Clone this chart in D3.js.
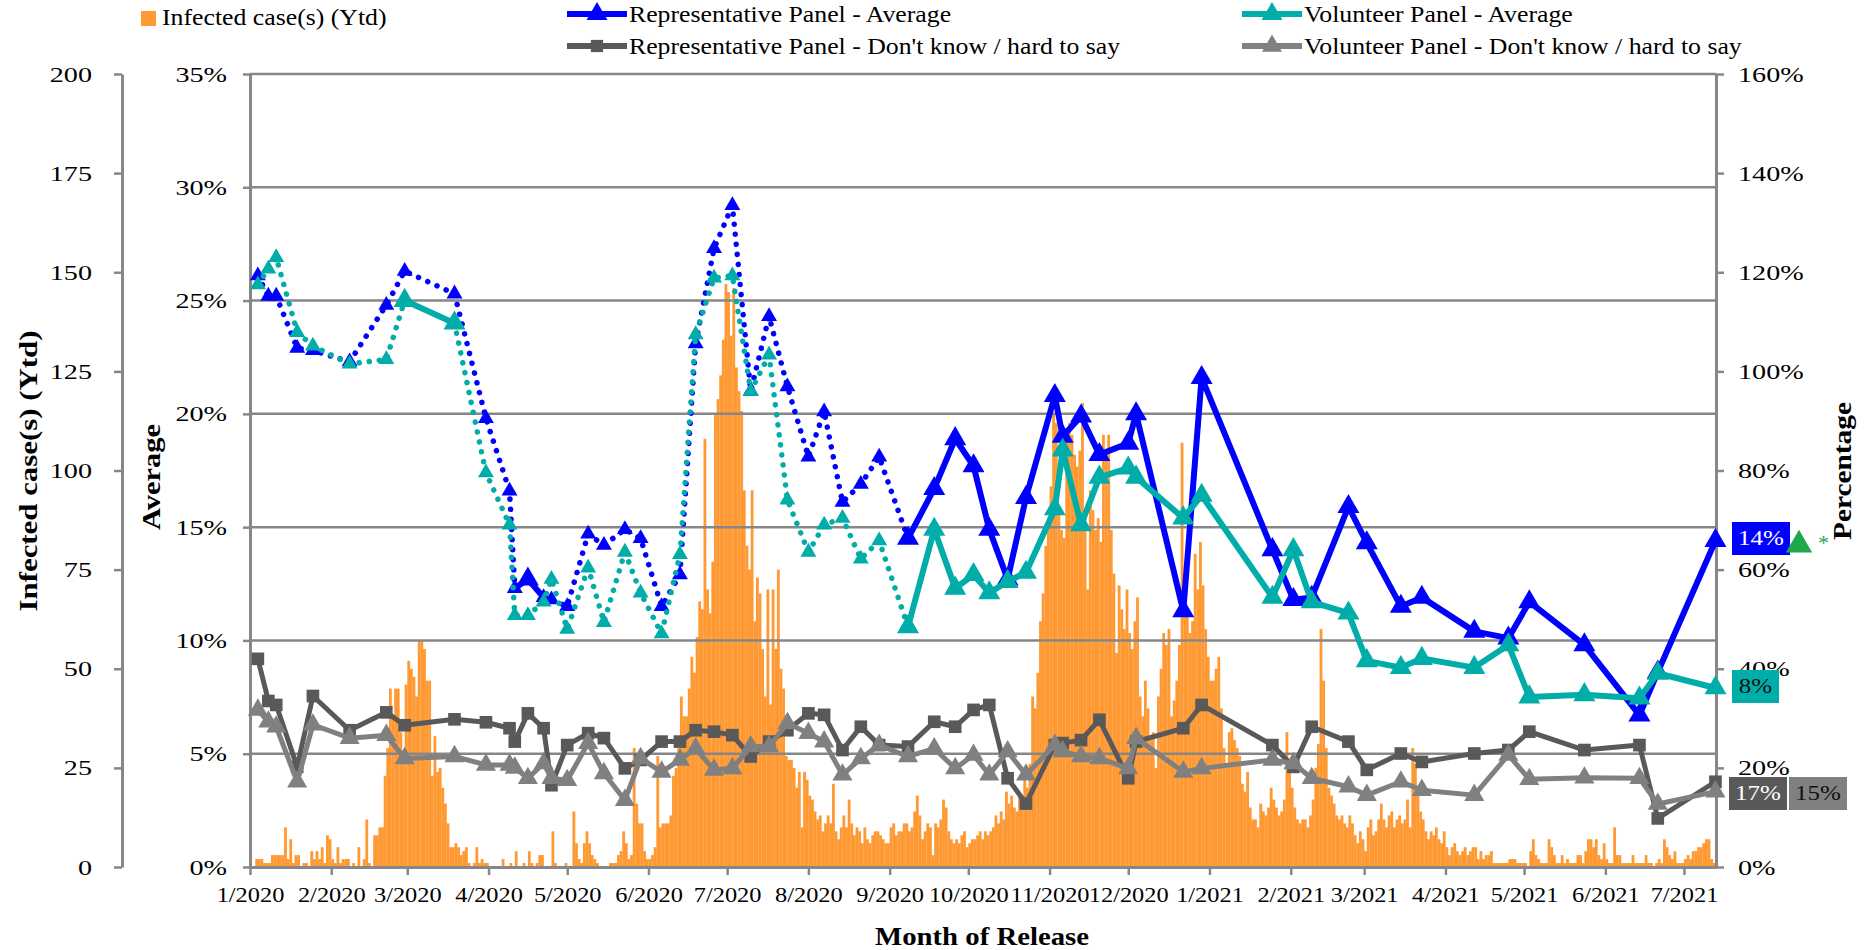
<!DOCTYPE html>
<html>
<head>
<meta charset="utf-8">
<style>
  body { margin: 0; background: #fff; }
  svg { display: block; font-family: "Liberation Serif", "Times New Roman", serif; }
</style>
</head>
<body>
<svg id="chart" width="1870" height="950"></svg>
<script src="https://cdnjs.cloudflare.com/ajax/libs/d3/7.8.5/d3.min.js"></script>
<script>
// survey release dates shared by the four panel series
const releaseDates = [
  "2020-01-04","2020-01-08","2020-01-11","2020-01-19","2020-01-25","2020-02-08","2020-02-22","2020-02-29","2020-03-19","2020-03-31",
  "2020-04-09","2020-04-11","2020-04-16","2020-04-22","2020-04-25","2020-05-01","2020-05-09","2020-05-15","2020-05-23","2020-05-29",
  "2020-06-06","2020-06-13","2020-06-19","2020-06-26","2020-07-03","2020-07-10","2020-07-17","2020-07-24","2020-08-01","2020-08-07",
  "2020-08-14","2020-08-21","2020-08-28","2020-09-08","2020-09-18","2020-09-26","2020-10-03","2020-10-09","2020-10-16","2020-10-23",
  "2020-11-03","2020-11-06","2020-11-13","2020-11-20","2020-12-01","2020-12-04","2020-12-22","2020-12-29","2021-01-25","2021-02-02",
  "2021-02-09","2021-02-23","2021-03-02","2021-03-15","2021-03-23","2021-04-12","2021-04-25","2021-05-03","2021-05-24","2021-06-14",
  "2021-06-21","2021-07-13"
];

// Average (left % axis)
const repAvg = [26.1,25.2,25.2,22.9,22.8,22.3,24.8,26.3,25.3,19.8, 16.6,12.3,12.7,11.9,11.8,11.5,14.7,14.2,14.9,14.5,
  11.5,12.9,23.1,27.3,29.2,21.0,24.3,21.2,18.1,20.1, 16.1,16.9,18.1,14.5,16.7,18.9,17.7,14.9,12.7,16.3,
  20.8,19.0,19.9,18.2,18.7,20.0,11.3,21.6,14.0,11.8, 11.9,15.9,14.3,11.5,11.9,10.4,10.1,11.7,9.8,6.7, 8.6,14.4];
const volAvg = [25.7,26.4,26.9,23.6,23.0,22.2,22.4,25.0,24.0,17.4, 15.1,11.1,11.1,11.7,12.7,10.5,13.2,10.8,13.9,12.1,
  10.3,13.8,23.5,26.0,26.1,21.0,22.6,16.2,13.9,15.1, 15.4,13.6,14.4,10.6,14.9,12.3,12.9,12.1,12.6,13.0,
  15.8,18.4,15.1,17.2,17.6,17.2,15.4,16.4,11.9,14.0, 11.7,11.2,9.1,8.8,9.2,8.8,9.8,7.5,7.6,7.45, 8.55,7.9];

// Don't know / hard to say (right % axis)
const repDK = [42.0,33.5,32.7,20.2,34.5,27.6,31.2,28.6,29.8,29.2, 28.0,25.3,31.0,28.0,16.5,24.6,27.0,26.0,19.9,21.6,
  25.3,25.3,27.6,27.3,26.6,22.3,25.3,27.6,31.0,30.7, 23.6,28.3,24.6,24.3,29.3,28.3,31.7,32.7,17.9,12.8,
  24.6,25.0,25.6,29.7,17.9,25.3,28.0,32.7,24.6,20.2, 28.3,25.3,19.6,22.9,21.2,22.9,23.6,27.3,23.6,24.6, 9.8,17.2];
const volDK = [31.7,29.3,28.3,17.2,28.7,26.0,26.6,21.9,22.3,20.6, 20.6,20.0,17.9,20.9,17.9,17.5,25.0,18.9,13.5,21.9,
  19.2,21.6,23.9,19.6,19.9,24.3,24.3,29.0,27.0,25.3, 18.6,21.9,24.6,22.3,23.9,19.9,22.6,18.6,23.3,18.6,
  24.6,23.3,22.3,21.9,19.9,26.0,19.2,19.9,21.6,20.9, 17.9,16.2,14.5,17.2,15.5,14.5,22.6,17.7,18.0,17.9, 12.7,15.2];

// daily infected cases, one row per month, starting 1 Jan 2020
const dailyCases2020 = [
  0,0,2,2,2,1,1,1,3,3,3,3,3,10,2,7,1,3,3,0,1,1,0,4,2,4,2,5,1,8,7,
  2,1,5,1,2,2,2,0,1,0,5,0,2,12,1,0,8,8,10,10,23,30,45,38,45,45,34,28,46,
  52,50,48,43,57,57,55,47,47,23,33,24,25,20,16,11,5,5,6,5,3,4,5,1,0,1,5,1,2,1,1,
  0,0,0,0,0,2,0,0,1,0,4,0,0,1,0,4,1,0,1,3,3,0,0,0,9,1,0,0,0,1,
  0,0,14,6,2,1,6,9,6,3,2,1,0,0,0,0,1,1,1,3,4,9,6,2,3,30,16,11,11,4,2,
  2,3,5,28,10,11,11,11,13,23,25,30,43,38,38,45,53,49,58,67,65,108,70,64,77,114,118,124,133,147,
  145,134,146,126,120,115,95,81,75,95,62,73,69,55,43,70,41,70,55,75,50,45,28,27,27,25,20,24,10,24,22,
  18,17,14,12,13,9,11,13,11,21,9,7,10,13,10,17,11,8,10,9,6,10,7,6,8,9,9,8,7,6,6,
  10,11,8,9,9,11,11,9,10,14,18,13,7,9,11,10,3,11,10,12,17,15,9,7,6,7,6,8,9,5,
  6,7,7,8,9,7,9,8,9,10,13,11,14,12,19,16,18,15,14,18,17,22,20,26,43,40,49,62,69,81,88,
  96,114,112,90,85,83,110,112,109,104,101,105,117,89,70,95,90,85,88,82,109,105,109,85,74,54,71,65,60,70,
  59,55,62,68,43,38,47,40,32,34,25,43,50,59,56,60,38,42,47,56,107,74,65,59,62,79,70,82,71,60,53
];
const dailyCases2021 = [
  47,47,50,53,40,30,25,34,35,32,30,28,21,19,24,15,12,12,10,16,14,13,15,20,17,15,13,14,17,34,25,
  20,15,12,11,12,12,10,13,17,25,31,60,47,30,20,18,16,13,12,13,11,10,13,11,8,6,9,7,
  4,10,12,8,9,12,16,12,10,13,14,10,12,13,11,12,17,10,30,26,20,14,12,9,7,9,8,10,7,6,9,
  5,3,5,6,4,3,4,5,3,4,5,5,2,4,2,3,3,4,1,1,1,1,1,1,2,2,2,1,1,1,
  1,0,4,7,3,2,1,1,1,7,5,3,1,1,3,1,2,1,1,1,3,3,1,4,7,7,5,7,3,2,6,
  2,1,1,10,3,3,1,1,1,1,3,1,1,1,1,3,1,1,0,1,2,1,7,5,3,2,4,1,1,1,
  2,3,2,4,4,5,5,6,7,7,2,1
];

const legendNames = ["Infected case(s) (Ytd)", "Representative Panel - Average", "Representative Panel - Don't know / hard to say",
  "Volunteer Panel - Average", "Volunteer Panel - Don't know / hard to say"];

// line style switches (segment start indices)
const solidFrom = 33;
const repSolidExtra = [11, 12], repBigExtra = [12];
const volSolidExtra = [7], volBigExtra = [7, 8];

const C = { orange: "#ff9933", blue: "#0000ff", teal: "#00ada8", dark: "#595959", grey: "#808080", axis: "#878787" };
const serif = "'Liberation Serif', 'Times New Roman', serif";

const svg = d3.select("#chart");
const plot = { left: 250, right: 1716, top: 74, bottom: 867 };

const parse = d3.timeParse("%Y-%m-%d");
const dates = releaseDates.map(parse);
const x = d3.scaleTime().domain([new Date(2020, 0, 1), new Date(2021, 6, 13, 5)]).range([plot.left, plot.right]);
const yAvg = d3.scaleLinear().domain([0, 35]).range([plot.bottom, plot.top]);
const yPct = d3.scaleLinear().domain([0, 160]).range([plot.bottom, plot.top]);
const yCases = d3.scaleLinear().domain([0, 200]).range([plot.bottom, plot.top]);

function stretch(sel, k) {
  sel.each(function () {
    const w = this.getComputedTextLength();
    d3.select(this).attr("textLength", w * k).attr("lengthAdjust", "spacingAndGlyphs");
  });
}

// bars
const caseStart = new Date(2020, 0, 1);
const cases = dailyCases2020.concat(dailyCases2021).map((v, i) => ({ date: d3.timeDay.offset(caseStart, i), v }));
svg.append("g").selectAll("rect").data(cases).join("rect")
  .attr("x", d => x(d.date))
  .attr("width", d => x(d3.timeDay.offset(d.date, 1)) - x(d.date) + 0.2)
  .attr("y", d => yCases(d.v))
  .attr("height", d => plot.bottom - yCases(d.v))
  .attr("fill", C.orange);

// gridlines
svg.append("g").selectAll("line").data(d3.range(5, 36, 5)).join("line")
  .attr("x1", plot.left).attr("x2", plot.right)
  .attr("y1", d => yAvg(d)).attr("y2", d => yAvg(d))
  .attr("stroke", C.axis).attr("stroke-width", 2.5);

function styleAxis(g, size, k) {
  g.attr("font-family", serif).attr("font-size", size);
  g.select(".domain").attr("stroke", C.axis).attr("stroke-width", 3);
  g.selectAll(".tick line").attr("stroke", C.axis).attr("stroke-width", 2.5);
  g.selectAll(".tick text").attr("fill", "#000");
  stretch(g.selectAll(".tick text"), k);
}

const gx = svg.append("g").attr("transform", `translate(0,${plot.bottom})`)
  .call(d3.axisBottom(x).tickValues(d3.timeMonth.range(new Date(2020, 0, 1), new Date(2021, 6, 2)))
    .tickFormat(d3.timeFormat("%-m/%Y")).tickSize(8).tickSizeOuter(0).tickPadding(12));
styleAxis(gx, 21, 1.16);

const gyA = svg.append("g").attr("transform", `translate(${plot.left},0)`)
  .call(d3.axisLeft(yAvg).tickValues(d3.range(0, 36, 5)).tickFormat(d => d + "%").tickSize(7).tickSizeOuter(0).tickPadding(16));
styleAxis(gyA, 22, 1.28);

const gyC = svg.append("g").attr("transform", "translate(122,0)")
  .call(d3.axisLeft(yCases).tickValues(d3.range(0, 201, 25)).tickSize(8).tickSizeOuter(0).tickPadding(22));
styleAxis(gyC, 22, 1.28);

const gyP = svg.append("g").attr("transform", `translate(${plot.right},0)`)
  .call(d3.axisRight(yPct).tickValues(d3.range(0, 161, 20)).tickFormat(d => d + "%").tickSize(8).tickSizeOuter(0).tickPadding(14));
styleAxis(gyP, 22, 1.28);

// axis titles
function title(txt, tx, ty, rot, len) {
  svg.append("text").attr("transform", `translate(${tx},${ty}) rotate(${rot})`)
    .attr("text-anchor", "middle").attr("font-family", serif).attr("font-weight", "bold")
    .attr("font-size", 25).attr("textLength", len).attr("lengthAdjust", "spacingAndGlyphs").text(txt);
}
title("Month of Release", 982, 945, 0, 214);
title("Infected case(s) (Ytd)", 37, 471, -90, 281);
title("Average", 160, 477, -90, 106);
title("Percentage", 1851, 471, -90, 138);

// series
const tri = s => d3.symbol().type(d3.symbolTriangle).size(s)();
const sq = s => d3.symbol().type(d3.symbolSquare).size(s)();

function drawDK(vals, yScale, color, marker) {
  const pts = vals.map((v, i) => [x(dates[i]), yScale(v)]);
  const g = svg.append("g");
  g.append("path").attr("d", d3.line()(pts)).attr("fill", "none")
    .attr("stroke", color).attr("stroke-width", 5).attr("stroke-linejoin", "round");
  g.selectAll("path.m").data(pts).join("path").attr("class", "m")
    .attr("transform", d => `translate(${d[0]},${d[1]})`).attr("d", marker).attr("fill", color);
}

function drawAvg(vals, color, solidExtra, bigExtra) {
  const pts = vals.map((v, i) => [x(dates[i]), yAvg(v)]);
  const isSolid = i => i >= solidFrom || solidExtra.includes(i);
  const g = svg.append("g");
  let run = [pts[0]], runSolid = isSolid(0);
  const flush = () => {
    g.append("path").attr("d", d3.line()(run)).attr("fill", "none").attr("stroke", color)
      .attr("stroke-linejoin", "round").attr("stroke-linecap", "round")
      .attr("stroke-width", runSolid ? 6 : 5.5)
      .attr("stroke-dasharray", runSolid ? null : "0.1 10");
  };
  for (let i = 0; i < pts.length - 1; i++) {
    const s = isSolid(i);
    if (s !== runSolid) { flush(); run = [pts[i]]; runSolid = s; }
    run.push(pts[i + 1]);
  }
  flush();
  g.selectAll("path.m").data(pts).join("path").attr("class", "m")
    .attr("transform", d => `translate(${d[0]},${d[1]})`)
    .attr("d", (d, i) => (i >= solidFrom || bigExtra.includes(i)) ? tri(210) : tri(110))
    .attr("fill", color);
}

drawDK(repDK, yPct, C.dark, sq(160));
drawDK(volDK, yPct, C.grey, tri(175));
drawAvg(repAvg, C.blue, repSolidExtra, repBigExtra);
drawAvg(volAvg, C.teal, volSolidExtra, volBigExtra);

// legend
const lg = svg.append("g").attr("font-family", serif).attr("font-size", 23);
lg.append("rect").attr("x", 141).attr("y", 11).attr("width", 15).attr("height", 15).attr("fill", C.orange);
lg.append("text").attr("x", 162).attr("y", 25).text(legendNames[0]);
const legendRows = [
  { x: 567, y: 14, color: C.blue, m: tri(190), name: legendNames[1] },
  { x: 567, y: 46, color: C.dark, m: sq(150), name: legendNames[2] },
  { x: 1242, y: 14, color: C.teal, m: tri(190), name: legendNames[3] },
  { x: 1242, y: 46, color: C.grey, m: tri(170), name: legendNames[4] }
];
legendRows.forEach(r => {
  lg.append("line").attr("x1", r.x).attr("x2", r.x + 60).attr("y1", r.y).attr("y2", r.y)
    .attr("stroke", r.color).attr("stroke-width", 6);
  lg.append("path").attr("transform", `translate(${r.x + 30},${r.y})`).attr("d", r.m).attr("fill", r.color);
  lg.append("text").attr("x", r.x + 62).attr("y", r.y + 8).text(r.name);
});
stretch(lg.selectAll("text"), 1.12);

// end-of-series value boxes
const pct = v => d3.format(".0f")(v) + "%";
const n = dates.length - 1;
const boxes = [
  { x: 1732, y: 522, w: 58, fill: C.blue, col: "#fff", t: pct(repAvg[n]) },
  { x: 1732, y: 670, w: 47, fill: C.teal, col: "#111", t: pct(volAvg[n]) },
  { x: 1729, y: 777, w: 58, fill: C.dark, col: "#fff", t: pct(repDK[n]) },
  { x: 1789, y: 777, w: 58, fill: C.grey, col: "#111", t: pct(volDK[n]) }
];
const bg = svg.append("g").attr("font-family", serif).attr("font-size", 20);
boxes.forEach(b => {
  bg.append("rect").attr("x", b.x).attr("y", b.y).attr("width", b.w).attr("height", 33).attr("fill", b.fill);
  bg.append("text").attr("x", b.x + b.w / 2).attr("y", b.y + 23).attr("text-anchor", "middle")
    .attr("fill", b.col).text(b.t);
});
stretch(bg.selectAll("text"), 1.25);
svg.append("path").attr("transform", "translate(1799,545)").attr("d", tri(300)).attr("fill", "#1da84c");
svg.append("text").attr("x", 1818).attr("y", 550).attr("font-family", serif).attr("font-size", 22)
  .attr("fill", "#1da84c").text("*");
</script>
</body>
</html>
